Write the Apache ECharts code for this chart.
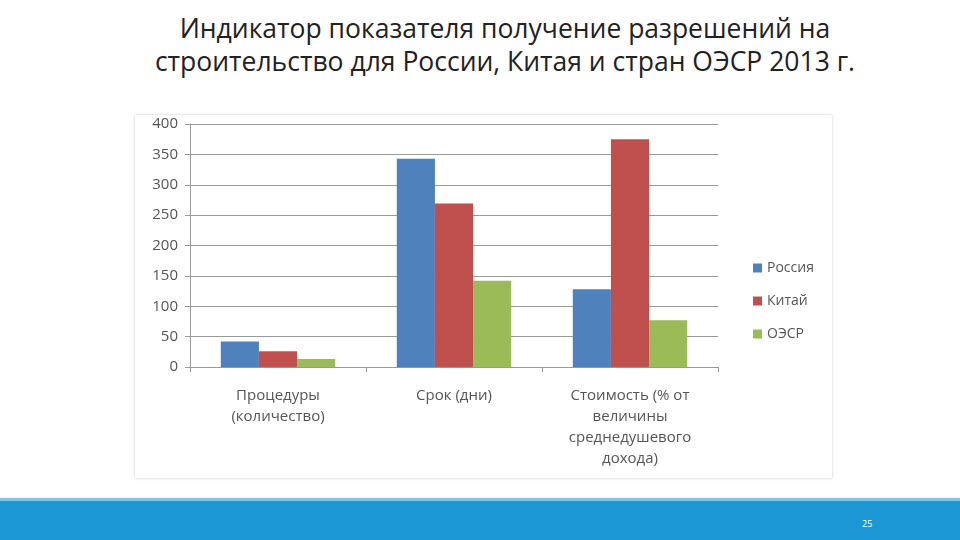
<!DOCTYPE html>
<html><head><meta charset="utf-8">
<script src="https://cdn.jsdelivr.net/npm/echarts@6/dist/echarts.min.js"></script>
<style>
body{margin:0;width:960px;height:540px;background:#fff;position:relative;overflow:hidden;font-family:"Open Sans",sans-serif}
#title{position:absolute;top:12px;left:0;width:1010px;text-align:center;font-size:26.5px;line-height:33px;color:#222}
#frame{position:absolute;left:135px;top:115px;width:697px;height:363px;background:#fff;box-shadow:0 0 3px #ccc}
#chart{position:absolute;left:0;top:0;width:960px;height:540px}
#bar{position:absolute;left:0;top:498px;width:960px;height:42px;background:#1b98d5;border-top:3px solid #7cc6ea}
#num{position:absolute;left:862px;top:517px;font-size:9px;color:#fff}
</style></head><body>
<div id="title">Индикатор показателя получение разрешений на<br>строительство для России, Китая и стран ОЭСР 2013 г.</div>
<div id="frame"></div>
<div id="chart"></div>
<div id="bar"></div><div id="num">25</div>
<script>
var categories = ['Процедуры\n(количество)', 'Срок (дни)', 'Стоимость (% от\nвеличины\nсреднедушевого\nдохода)'];
var russia = [42, 343, 128];
var china = [26, 269, 375];
var oecd = [13, 142, 77];
var yTicks = [0, 400, 50];

var chart = echarts.init(document.getElementById('chart'));
var txt = {color: '#555', fontSize: 15, fontFamily: 'Open Sans'};
function bar(name, data, color) {
  return {name: name, type: 'bar', data: data, itemStyle: {color: color}, barGap: '0%', barCategoryGap: '35%'};
}
chart.setOption({
  animation: false,
  legend: {
    orient: 'vertical', left: 748, top: 256, itemGap: 19,
    itemWidth: 9, itemHeight: 9, icon: 'rect',
    textStyle: {color: '#555', fontSize: 14, fontFamily: 'Open Sans'},
    data: ['Россия', 'Китай', 'ОЭСР']
  },
  grid: {left: 190, right: 242, top: 124, bottom: 173},
  xAxis: {
    type: 'category', data: categories,
    axisLine: {lineStyle: {color: '#999'}},
    axisTick: {show: true, length: 5, lineStyle: {color: '#999'}},
    axisLabel: Object.assign({interval: 0, lineHeight: 21, margin: 18}, txt)
  },
  yAxis: {
    type: 'value', min: yTicks[0], max: yTicks[1], interval: yTicks[2],
    axisLine: {show: true, lineStyle: {color: '#999'}},
    axisTick: {show: true, lineStyle: {color: '#999'}},
    splitLine: {lineStyle: {color: '#999'}},
    axisLabel: Object.assign({margin: 12}, txt)
  },
  series: [
    bar('Россия', russia, '#4f81bd'),
    bar('Китай', china, '#c0504d'),
    bar('ОЭСР', oecd, '#9bbb59')
  ]
});
</script>
</body></html>
